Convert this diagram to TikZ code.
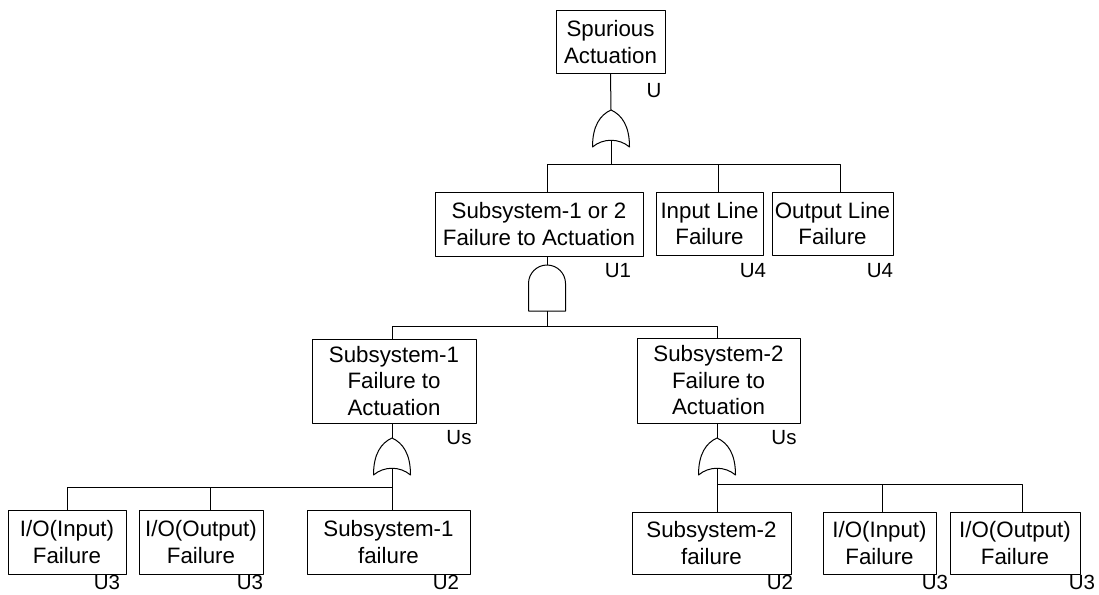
\documentclass[tikz,border=0pt]{standalone}
\usepackage{fontspec}
\setmainfont{Liberation Sans}
\tikzset{
	orgate/.pic={
		\draw[fill=white] (0,0) .. controls (-11,5) and (-18.5,16) .. (-18.5,37)
			.. controls (-8,28) and (8,28) .. (18.5,37)
			.. controls (18.5,16) and (11,5) .. (0,0) -- cycle;
		\coordinate (-in) at (0,0);
		\coordinate (-out) at (0,30.25);
	},
	andgate/.pic={
		\draw[fill=white] (-18.5,46) -- (-18.5,18.5)
			.. controls (-18.5,8.3) and (-10.2,0) .. (0,0)
			.. controls (10.2,0) and (18.5,8.3) .. (18.5,18.5) -- (18.5,46) -- cycle;
		\coordinate (-in) at (0,0);
		\coordinate (-out) at (0,46);
	}
}
\begin{document}
\begin{tikzpicture}[x=1pt,y=-1pt,line width=1pt,line join=round,
	event/.style={draw,align=center,inner sep=0pt,font=\fontsize{22.3}{26.5}\selectfont},
	lbl/.style={inner sep=0pt,font=\fontsize{20.5}{22}\selectfont}]
	\useasboundingbox (0,0) rectangle (1099,594);
	% events
	\node[event,minimum width=109pt,minimum height=62pt] (top) at (610.5,42) {Spurious\\Actuation};
	\node[event,minimum width=208pt,minimum height=64pt] (sub12) at (539,224) {Subsystem-1 or 2\\Failure to Actuation};
	\node[event,minimum width=107pt,minimum height=63pt] (inl) at (709.5,223.5) {Input Line\\Failure};
	\node[event,minimum width=121pt,minimum height=63pt] (outl) at (832.5,223.5) {Output Line\\Failure};
	\node[event,minimum width=164pt,minimum height=84pt] (sub1) at (394,381) {Subsystem-1\\Failure to\\Actuation};
	\node[event,minimum width=163pt,minimum height=85pt] (sub2) at (718.5,380.5) {Subsystem-2\\Failure to\\Actuation};
	\node[event,minimum width=118pt,minimum height=64pt] (ioa) at (67,542) {I/O(Input)\\Failure};
	\node[event,minimum width=124pt,minimum height=64pt] (iob) at (201,542) {I/O(Output)\\Failure};
	\node[event,minimum width=163pt,minimum height=64pt] (fa) at (388.5,542) {Subsystem-1\\failure};
	\node[event,minimum width=159pt,minimum height=62pt] (fb) at (711.5,543) {Subsystem-2\\failure};
	\node[event,minimum width=113pt,minimum height=62pt] (ioc) at (879.5,543) {I/O(Input)\\Failure};
	\node[event,minimum width=130pt,minimum height=62pt] (iod) at (1015,543) {I/O(Output)\\Failure};
	% gates
	\pic (g0) at (611,110) {orgate};
	\pic (g1) at (547,265) {andgate};
	\pic (g2) at (392,438) {orgate};
	\pic (g3) at (717,438) {orgate};
	\coordinate (b0) at (611,164);
	\coordinate (b1) at (547,326);
	\coordinate (b2) at (392,487);
	\coordinate (b3) at (717,484);
	% connectors
	\draw (top.south) -- (g0-in);
	\draw (g0-out) -- (b0);
	\draw (b0) -| ([xshift=8pt]sub12.north);
	\draw (b0) -| ([xshift=8.5pt]inl.north);
	\draw (b0) -| ([xshift=7.5pt]outl.north);
	\draw ([xshift=8pt]sub12.south) -- (g1-in);
	\draw (g1-out) -- (b1);
	\draw (b1) -| ([xshift=-2pt]sub1.north);
	\draw (b1) -| ([xshift=-1.5pt]sub2.north);
	\draw ([xshift=-2pt]sub1.south) -- (g2-in);
	\draw (g2-out) -- ([xshift=3.5pt]fa.north);
	\draw (b2) -| (ioa.north);
	\draw (b2) -| ([xshift=9pt]iob.north);
	\draw ([xshift=-1.5pt]sub2.south) -- (g3-in);
	\draw (g3-out) -- ([xshift=5.5pt]fb.north);
	\draw (b3) -| ([xshift=2.5pt]ioc.north);
	\draw (b3) -| ([xshift=7pt]iod.north);
	% labels
	\node[lbl] (ltop) at (654,91) {U};
	\node[lbl] (lsub12) at (618,271) {U1};
	\node[lbl] (linl) at (753,271) {U4};
	\node[lbl] (loutl) at (880,271) {U4};
	\node[lbl] (lsub1) at (459,438) {Us};
	\node[lbl] (lsub2) at (784,438) {Us};
	\node[lbl] (lioa) at (107,582) {U3};
	\node[lbl] (liob) at (250,582) {U3};
	\node[lbl] (lfa) at (446,582) {U2};
	\node[lbl] (lfb) at (780,582) {U2};
	\node[lbl] (lioc) at (935,582) {U3};
	\node[lbl] (liod) at (1082,582) {U3};
\end{tikzpicture}
\end{document}
